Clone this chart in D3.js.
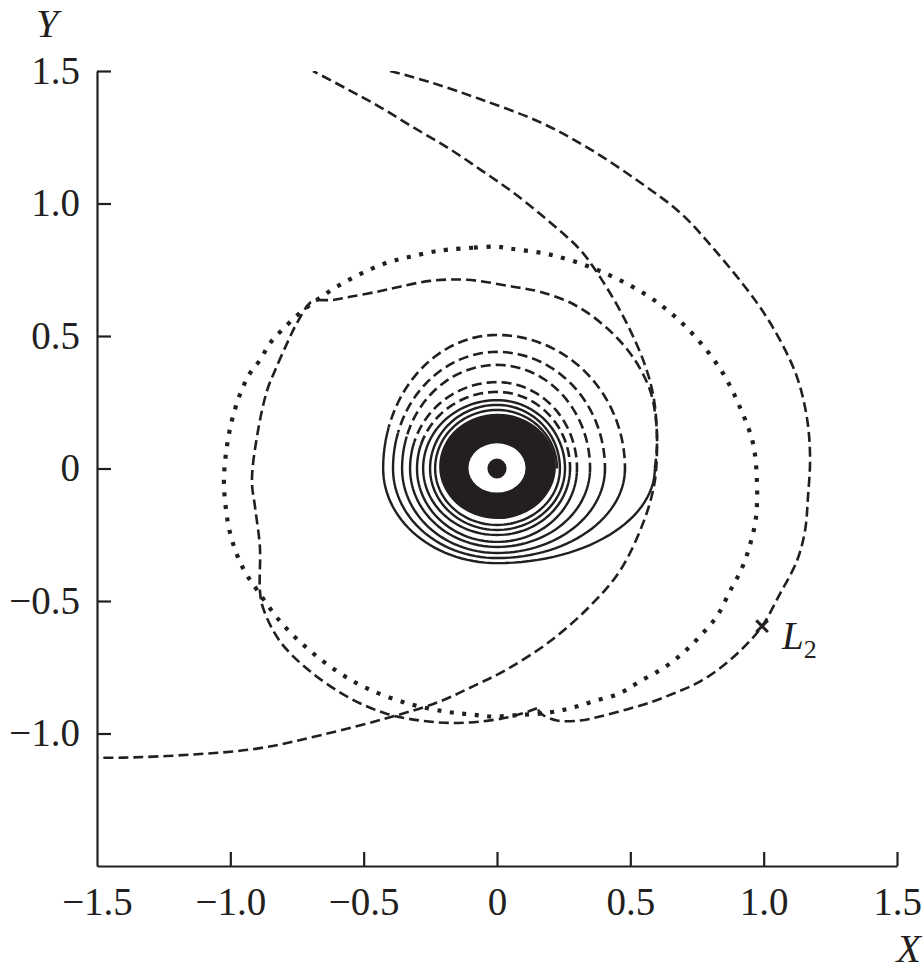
<!DOCTYPE html>
<html><head><meta charset="utf-8">
<script src="https://cdn.jsdelivr.net/npm/d3@7"></script>
<style>body{margin:0;background:#fff}</style>
</head><body><svg id="c" width="923" height="975"></svg>
<script>
// ---- data (in plot units) ----
const xTicks = [-1.5, -1.0, -0.5, 0, 0.5, 1.0, 1.5];
const yTicks = [-1.0, -0.5, 0, 0.5, 1.0, 1.5];
const xTickLabels = ["\u22121.5", "\u22121.0", "\u22120.5", "0", "0.5", "1.0", "1.5"];
const yTickLabels = ["\u22121.0", "\u22120.5", "0", "0.5", "1.0", "1.5"];

// dotted closed orbit
const dottedOrbit = [
  [0,0.837],[-0.09,0.833],[-0.184,0.826],[-0.24,0.818],[-0.326,0.799],[-0.412,0.777],[-0.502,0.739],
  [-0.589,0.693],[-0.664,0.644],[-0.739,0.587],[-0.806,0.523],[-0.851,0.473],[-0.889,0.409],[-0.926,0.36],
  [-0.962,0.284],[-0.994,0.182],[-1.015,0.068],[-1.024,-0.045],[-1.018,-0.14],[-1.003,-0.235],[-0.977,-0.32],
  [-0.945,-0.39],[-0.9,-0.458],[-0.814,-0.576],[-0.712,-0.678],[-0.6,-0.765],[-0.487,-0.83],[-0.337,-0.886],
  [-0.195,-0.917],[-0.101,-0.928],[-0.015,-0.936],[0.086,-0.93],[0.187,-0.922],[0.274,-0.905],[0.36,-0.879],
  [0.461,-0.848],[0.536,-0.803],[0.622,-0.754],[0.697,-0.697],[0.761,-0.633],[0.825,-0.557],[0.874,-0.462],
  [0.919,-0.375],[0.951,-0.28],[0.971,-0.186],[0.975,-0.057],[0.96,0.095],[0.911,0.231],[0.847,0.36],
  [0.761,0.477],[0.66,0.58],[0.547,0.663],[0.375,0.75],[0.199,0.807],[0.049,0.83]
];

// dashed escape arc leaving the spiral towards the top
const escapeArc = [
  [0.6,0.095],[0.589,0.258],[0.555,0.39],[0.48,0.561],[0.386,0.723],[0.311,0.826],[0.187,0.939],
  [0.06,1.042],[-0.064,1.129],[-0.187,1.212],[-0.315,1.288],[-0.439,1.364],[-0.562,1.432],[-0.69,1.5]
];

// dashed transfer trajectory, split at its cusps
const transferPart1 = [
  [-0.401,1.5],[-0.251,1.458],[-0.064,1.394],[0.161,1.307],[0.349,1.205],[0.536,1.08],[0.686,0.966],
  [0.806,0.837],[0.975,0.625],[1.061,0.485],[1.125,0.345],[1.162,0.193],[1.174,0.042],[1.166,-0.11],
  [1.155,-0.235],[1.125,-0.348],[1.061,-0.473],[0.994,-0.595],[0.922,-0.678],[0.836,-0.754],[0.75,-0.81],
  [0.667,-0.847],[0.585,-0.879],[0.487,-0.909],[0.386,-0.936],[0.311,-0.951],[0.225,-0.951],[0.172,-0.93],
  [0.15,-0.905]
];
const transferPart2 = [
  [0.15,-0.905],[0.097,-0.924],[0.037,-0.94],[-0.064,-0.955],[-0.176,-0.96],[-0.289,-0.951],[-0.412,-0.926],
  [-0.551,-0.867],[-0.701,-0.765],[-0.814,-0.652],[-0.877,-0.527],[-0.889,-0.462],[-0.889,-0.299],
  [-0.907,-0.148],[-0.919,-0.045],[-0.896,0.144],[-0.862,0.295],[-0.832,0.371],[-0.787,0.473],
  [-0.75,0.549],[-0.701,0.625],[-0.671,0.636]
];
const transferPart3 = [
  [-0.671,0.636],[-0.615,0.636],[-0.551,0.648],[-0.45,0.667],[-0.364,0.686],[-0.251,0.708],[-0.112,0.712],
  [0.06,0.686],[0.161,0.667],[0.292,0.617],[0.412,0.53],[0.51,0.42],[0.574,0.295],[0.596,0.182],
  [0.6,0.068],[0.589,-0.064],[0.547,-0.208],[0.461,-0.386],[0.349,-0.519],[0.199,-0.652],[0.037,-0.758],
  [-0.09,-0.822],[-0.214,-0.879],[-0.364,-0.928],[-0.652,-1.004],[-0.9,-1.057],[-1.151,-1.08],
  [-1.402,-1.091],[-1.5,-1.091]
];

// outward spiral, one entry per turn (inner -> outer): extreme reaches from the origin
const spiralRight  = [0.225, 0.236, 0.255, 0.274, 0.3, 0.349, 0.405, 0.48, 0.592]; // start of each turn (+ end)
const spiralTop    = [0.221, 0.24, 0.258, 0.289, 0.326, 0.391, 0.44, 0.504];
const spiralLeft   = [-0.232, -0.251, -0.277, -0.3, -0.326, -0.356, -0.39, -0.427];
const spiralBottom = [-0.213, -0.232, -0.251, -0.277, -0.296, -0.319, -0.338, -0.357];
const spiralDashedFrom = 3;           // turns from this index outward have a dashed upper arc
const spiralDashedArc = [0, 165];     // degrees of each such turn drawn dashed
const denseCore = [0.002, 0.008, 0.219, 0.199];  // filled, tightly wound region [cx, cy, rx, ry]
const coreHole = [0, 0.002, 0.107, 0.093];
const centralBody = [0, 0, 0.036, 0.038];
const l2Point = [0.994, -0.595];

// ---- drawing ----
const svg = d3.select("#c");
const ink = "#231f20";
const serif = "Liberation Serif, Times New Roman, serif";
const x = d3.scaleLinear().domain([-1.5, 1.5]).range([97, 897]);
const y = d3.scaleLinear().domain([-1.5, 1.5]).range([866, 71]);

svg.append("rect").attr("width", 923).attr("height", 975).attr("fill", "#fff");
svg.append("clipPath").attr("id", "plot").append("rect")
  .attr("x", x(-1.5)).attr("y", y(1.5)).attr("width", x(1.5) - x(-1.5)).attr("height", y(-1.5) - y(1.5));
const g = svg.append("g").attr("clip-path", "url(#plot)");

const line = d3.line().x(d => x(d[0])).y(d => y(d[1])).curve(d3.curveCatmullRom.alpha(0.5));
const lineClosed = d3.line().x(d => x(d[0])).y(d => y(d[1])).curve(d3.curveCatmullRomClosed.alpha(0.5));
const lineLin = d3.line().x(d => x(d[0])).y(d => y(d[1]));

const dashed = sel => sel.attr("fill", "none").attr("stroke", ink).attr("stroke-width", 2.6).attr("stroke-dasharray", "10 5");
const solid = sel => sel.attr("fill", "none").attr("stroke", ink).attr("stroke-width", 2.4);

// dotted orbit
g.append("path").attr("d", lineClosed(dottedOrbit)).attr("fill", "none").attr("stroke", ink)
  .attr("stroke-width", 4.2).attr("stroke-dasharray", "4 8.6");

// dense core (annulus) and central body
function ellipsePath(e) {
  const [cx, cy, rx, ry] = e;
  const px = x(cx), py = y(cy), prx = x(cx + rx) - x(cx), pry = y(cy) - y(cy + ry);
  return `M${px - prx},${py}A${prx},${pry} 0 1,0 ${px + prx},${py}A${prx},${pry} 0 1,0 ${px - prx},${py}Z`;
}
g.append("path").attr("d", ellipsePath(denseCore) + ellipsePath(coreHole))
  .attr("fill", ink).attr("fill-rule", "evenodd");
g.append("path").attr("d", ellipsePath(centralBody)).attr("fill", ink);

// spiral: each quarter turn is a quarter ellipse between successive extreme reaches
const segs = [];
let cur = null;
const nTurns = spiralTop.length;
for (let k = 0; k < nTurns; k++) {
  for (let deg = 0; deg < 360; deg += 3) {
    const th = deg * Math.PI / 180;
    let rx, ry;
    if (deg < 90) { rx = spiralRight[k]; ry = spiralTop[k]; }
    else if (deg < 180) { rx = -spiralLeft[k]; ry = spiralTop[k]; }
    else if (deg < 270) { rx = -spiralLeft[k]; ry = -spiralBottom[k]; }
    else { rx = spiralRight[k + 1]; ry = -spiralBottom[k]; }
    const pt = [rx * Math.cos(th), ry * Math.sin(th)];
    const style = (k >= spiralDashedFrom && deg >= spiralDashedArc[0] && deg < spiralDashedArc[1]) ? "d" : "s";
    if (!cur || cur.style !== style) {
      const prev = cur ? cur.pts[cur.pts.length - 1] : null;
      cur = {style, pts: prev ? [prev] : []};
      segs.push(cur);
    }
    cur.pts.push(pt);
  }
}
const spiralEnd = [spiralRight[nTurns], 0];
cur.pts.push(spiralEnd);
segs.forEach(s => {
  const p = g.append("path").attr("d", lineLin(s.pts));
  if (s.style === "d") dashed(p); else solid(p);
});

// escape arc and transfer trajectory
dashed(g.append("path").attr("d", line([spiralEnd].concat(escapeArc))));
[transferPart1, transferPart2, transferPart3].forEach(part => dashed(g.append("path").attr("d", line(part))));

// L2 marker
svg.append("path").attr("d", d3.symbol(d3.symbolX, 90)())
  .attr("transform", `translate(${x(l2Point[0])},${y(l2Point[1])})`)
  .attr("fill", "none").attr("stroke", ink).attr("stroke-width", 3);
const l2 = svg.append("text").attr("x", x(l2Point[0]) + 20).attr("y", y(l2Point[1]) + 23)
  .attr("font-family", serif).attr("font-size", 39).attr("fill", ink);
l2.append("tspan").attr("font-style", "italic").text("L");
l2.append("tspan").attr("font-size", 26).attr("dy", 9).text("2");

// axes
const fmtX = d => xTickLabels[xTicks.indexOf(d)];
const fmtY = d => yTickLabels[yTicks.indexOf(d)];
const ax = svg.append("g").attr("transform", `translate(0,${y(-1.5)})`)
  .call(d3.axisBottom(x).tickValues(xTicks).tickSize(-14).tickSizeOuter(0).tickPadding(21).tickFormat(fmtX));
const ay = svg.append("g").attr("transform", `translate(${x(-1.5)},0)`)
  .call(d3.axisLeft(y).tickValues(yTicks).tickSize(-14).tickSizeOuter(0).tickPadding(17).tickFormat(fmtY));
[ax, ay].forEach(a => {
  a.select(".domain").attr("stroke", ink).attr("stroke-width", 2.2);
  a.selectAll(".tick line").attr("stroke", ink).attr("stroke-width", 2.2);
  a.selectAll(".tick text").attr("fill", ink).attr("font-family", serif).attr("font-size", 39);
});
ax.selectAll(".tick").filter(d => d === -1.5).select("line").remove();

svg.append("text").attr("x", 36).attr("y", 37).attr("font-family", serif)
  .attr("font-style", "italic").attr("font-size", 40).attr("fill", ink).text("Y");
svg.append("text").attr("x", 921).attr("y", 962).attr("text-anchor", "end").attr("font-family", serif)
  .attr("font-style", "italic").attr("font-size", 40).attr("fill", ink).text("X");
</script></body></html>
